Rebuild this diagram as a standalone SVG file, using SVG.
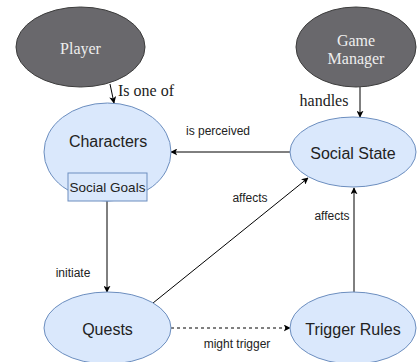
<svg xmlns="http://www.w3.org/2000/svg" width="417" height="362" viewBox="0 0 417 362">
<style>
.blue{fill:#dae8fc;stroke:#6c8ebf;stroke-width:1}
.dark{fill:#69686c;stroke:#3c3c3c;stroke-width:1}
.nt{font-family:"Liberation Sans",Arial,sans-serif;font-size:16px;fill:#222;text-anchor:middle;dominant-baseline:central}
.dt{font-family:"Liberation Serif","Times New Roman",serif;font-size:16px;fill:#eeeeee;text-anchor:middle;dominant-baseline:central}
.lbl{font-family:"Liberation Sans",Arial,sans-serif;font-size:12px;fill:#222;text-anchor:middle;dominant-baseline:central}
.slbl{font-family:"Liberation Serif","Times New Roman",serif;font-size:16px;fill:#222;text-anchor:middle;dominant-baseline:central}
.edge{fill:none;stroke:#000;stroke-width:1}
</style>
<defs>
<marker id="arr" viewBox="0 0 10 10" refX="9" refY="5" markerWidth="7" markerHeight="7" orient="auto" markerUnits="userSpaceOnUse">
<path d="M0,0 L10,5 L0,10 L2.5,5 Z" fill="#000"/>
</marker>
</defs>
<g id="connectors">
<line class="edge" x1="110" y1="84" x2="114" y2="103" marker-end="url(#arr)"/>
<line class="edge" x1="360" y1="87" x2="360" y2="117" marker-end="url(#arr)"/>
<line class="edge" x1="290" y1="152" x2="171" y2="152" marker-end="url(#arr)"/>
<line class="edge" x1="107" y1="201" x2="107" y2="292" marker-end="url(#arr)"/>
<line class="edge" x1="153" y1="303" x2="308" y2="178" marker-end="url(#arr)"/>
<line class="edge" x1="354" y1="292" x2="354" y2="188" marker-end="url(#arr)"/>
<line class="edge" x1="171" y1="328" x2="290" y2="328" stroke-dasharray="3,3" marker-end="url(#arr)"/>
<text class="slbl" x="146" y="90">Is one of</text>
<text class="slbl" x="324" y="100">handles</text>
<text class="lbl" x="218" y="131">is perceived</text>
<text class="lbl" x="73" y="273">initiate</text>
<text class="lbl" x="250" y="198">affects</text>
<text class="lbl" x="332" y="216">affects</text>
<text class="lbl" x="237" y="344">might trigger</text>
</g>
<g id="player">
<ellipse class="dark" cx="80.5" cy="47" rx="64.5" ry="40"/>
<text class="dt" x="80.5" y="48">Player</text>
</g>
<g id="game-manager">
<ellipse class="dark" cx="356" cy="47" rx="60" ry="40"/>
<text class="dt" x="356" y="40">Game</text>
<text class="dt" x="356" y="58">Manager</text>
</g>
<g id="characters">
<ellipse class="blue" cx="107.5" cy="152" rx="63.5" ry="49"/>
<text class="nt" x="108" y="141">Characters</text>
<rect class="blue" x="68" y="173" width="79" height="28"/>
<text class="nt" x="107.5" y="187" style="font-size:13.5px">Social Goals</text>
</g>
<g id="social-state">
<ellipse class="blue" cx="353" cy="152" rx="63" ry="35"/>
<text class="nt" x="353" y="153">Social State</text>
</g>
<g id="quests">
<ellipse class="blue" cx="107.5" cy="328" rx="63.5" ry="36"/>
<text class="nt" x="107.5" y="329">Quests</text>
</g>
<g id="trigger-rules">
<ellipse class="blue" cx="353" cy="328" rx="63" ry="36"/>
<text class="nt" x="353" y="329">Trigger Rules</text>
</g>
</svg>
